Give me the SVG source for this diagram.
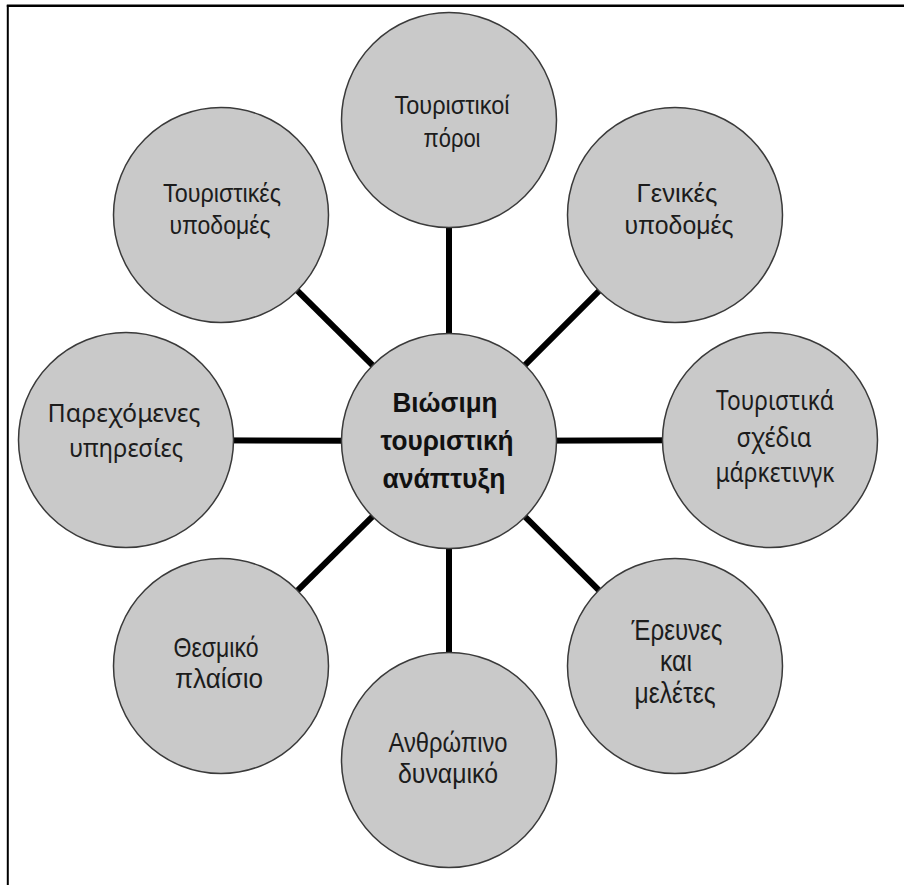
<svg xmlns="http://www.w3.org/2000/svg" width="904" height="885" viewBox="0 0 904 885">
<style>
.node{fill:#c9c9c9;stroke:#3a3a3a;stroke-width:1.5}
.lbl{font-family:"Liberation Sans",Arial,sans-serif;fill:#1c1c1c;text-anchor:middle}
.lbl2{font-family:"Noto Sans","Liberation Sans",sans-serif;fill:#1c1c1c;text-anchor:middle}
.ctr{font-family:"Liberation Sans",Arial,sans-serif;font-weight:bold;fill:#111;text-anchor:middle;font-size:28px}
.conn{stroke:#000;stroke-width:6}
</style>
<rect x="0" y="0" width="904" height="885" fill="#fff"/>
<g id="frame" fill="none" stroke="#000">
<line x1="6.8" y1="5.8" x2="904" y2="5.8" stroke-width="2.5"/>
<line x1="7.8" y1="5" x2="7.8" y2="885" stroke-width="2"/>
</g>
<g id="connectors">
<line class="conn" x1="449" y1="441" x2="449" y2="120"/>
<line class="conn" x1="449" y1="441" x2="221" y2="215"/>
<line class="conn" x1="449" y1="441" x2="675" y2="215"/>
<line class="conn" x1="449" y1="441" x2="126" y2="440"/>
<line class="conn" x1="449" y1="441" x2="770" y2="440"/>
<line class="conn" x1="449" y1="441" x2="221" y2="666"/>
<line class="conn" x1="449" y1="441" x2="449" y2="760"/>
<line class="conn" x1="449" y1="441" x2="675" y2="666"/>
</g>
<g id="node-top">
<circle class="node" cx="449" cy="120" r="107.5"/>
<text class="lbl" font-size="25" x="452" y="114" textLength="115" lengthAdjust="spacingAndGlyphs">Τουριστικοί</text>
<text class="lbl" font-size="25" x="452" y="147" textLength="57" lengthAdjust="spacingAndGlyphs">πόροι</text>
</g>
<g id="node-topleft">
<circle class="node" cx="221" cy="215" r="107.5"/>
<text class="lbl" font-size="25" x="222" y="202" textLength="118" lengthAdjust="spacingAndGlyphs">Τουριστικές</text>
<text class="lbl" font-size="25" x="220" y="234" textLength="101" lengthAdjust="spacingAndGlyphs">υποδομές</text>
</g>
<g id="node-topright">
<circle class="node" cx="675" cy="215" r="107.5"/>
<text class="lbl" font-size="25" x="677" y="202" textLength="81" lengthAdjust="spacingAndGlyphs">Γενικές</text>
<text class="lbl" font-size="25" x="679" y="234" textLength="109" lengthAdjust="spacingAndGlyphs">υποδομές</text>
</g>
<g id="node-left">
<circle class="node" cx="126" cy="440" r="107.5"/>
<text class="lbl2" font-size="25" x="124" y="422" textLength="153" lengthAdjust="spacingAndGlyphs">Παρεχόμενες</text>
<text class="lbl2" font-size="25" x="126" y="457" textLength="114" lengthAdjust="spacingAndGlyphs">υπηρεσίες</text>
</g>
<g id="node-right">
<circle class="node" cx="770" cy="440" r="107.5"/>
<text class="lbl2" font-size="27" x="775" y="410" textLength="118" lengthAdjust="spacingAndGlyphs">Τουριστικά</text>
<text class="lbl2" font-size="27" x="774" y="447" textLength="75" lengthAdjust="spacingAndGlyphs">σχέδια</text>
<text class="lbl2" font-size="27" x="775" y="482" textLength="119" lengthAdjust="spacingAndGlyphs">μάρκετινγκ</text>
</g>
<g id="node-bottomleft">
<circle class="node" cx="221" cy="666" r="107.5"/>
<text class="lbl" font-size="28" x="216" y="657" textLength="85" lengthAdjust="spacingAndGlyphs">Θεσμικό</text>
<text class="lbl" font-size="28" x="219" y="688" textLength="88" lengthAdjust="spacingAndGlyphs">πλαίσιο</text>
</g>
<g id="node-bottom">
<circle class="node" cx="449" cy="760" r="107.5"/>
<text class="lbl" font-size="28" x="448" y="752" textLength="119" lengthAdjust="spacingAndGlyphs">Ανθρώπινο</text>
<text class="lbl" font-size="28" x="448" y="783" textLength="100" lengthAdjust="spacingAndGlyphs">δυναμικό</text>
</g>
<g id="node-bottomright">
<circle class="node" cx="675" cy="666" r="107.5"/>
<text class="lbl" font-size="29" x="677" y="640" textLength="91" lengthAdjust="spacingAndGlyphs">Έρευνες</text>
<text class="lbl" font-size="29" x="676" y="671" textLength="32" lengthAdjust="spacingAndGlyphs">και</text>
<text class="lbl" font-size="29" x="675" y="703" textLength="81" lengthAdjust="spacingAndGlyphs">μελέτες</text>
</g>
<g id="node-center">
<circle class="node" cx="449" cy="441" r="107.5"/>
<text class="ctr" x="445" y="412" textLength="105" lengthAdjust="spacingAndGlyphs">Βιώσιμη</text>
<text class="ctr" x="447" y="450" textLength="133" lengthAdjust="spacingAndGlyphs">τουριστική</text>
<text class="ctr" x="444" y="488" textLength="123" lengthAdjust="spacingAndGlyphs">ανάπτυξη</text>
</g>
</svg>
